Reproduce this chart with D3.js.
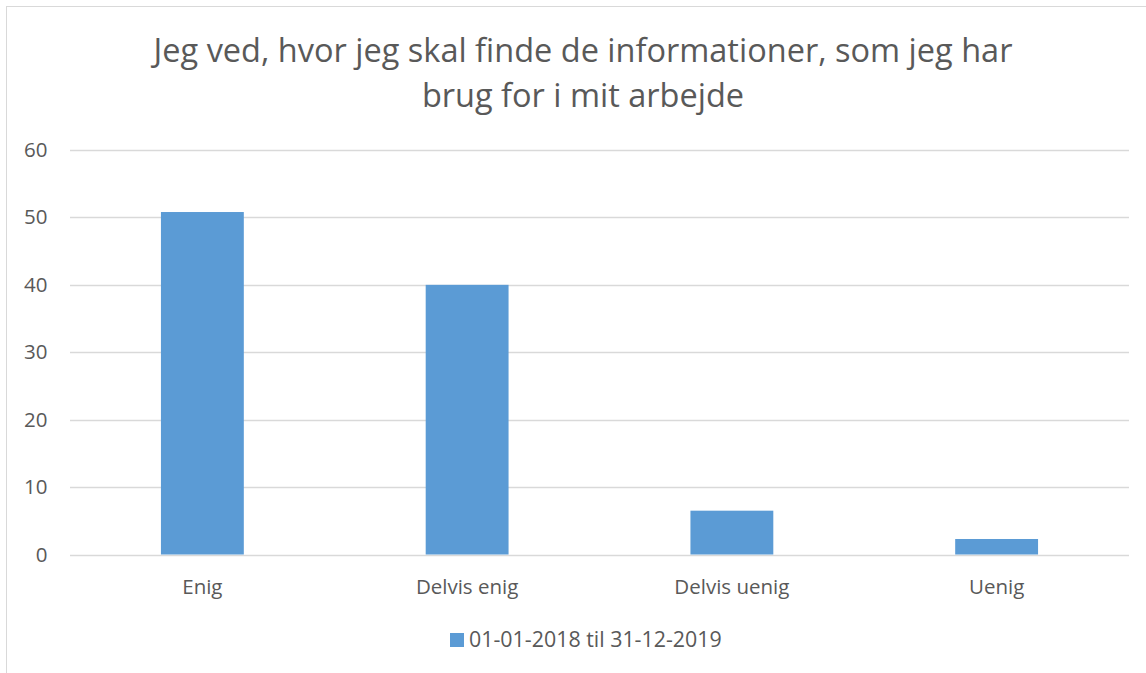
<!DOCTYPE html>
<html>
<head>
<meta charset="utf-8">
<script src="https://cdn.jsdelivr.net/npm/d3@7"></script>
<style>
  body { margin: 0; background: #fff; }
  text { font-family: "Open Sans", Lato, sans-serif; fill: #595959; }
</style>
</head>
<body>
<svg id="chart" width="1146" height="673"></svg>
<script>
    'use strict';

    // Data
    var categories = ['Enig', 'Delvis enig', 'Delvis uenig', 'Uenig'];
    var values = [50.8, 40.0, 6.5, 2.3];
    var seriesName = '01-01-2018 til 31-12-2019';
    var titleLines = ['Jeg ved, hvor jeg skal finde de informationer, som jeg har', 'brug for i mit arbejde'];
    var yTicks = [0, 10, 20, 30, 40, 50, 60];

    var barColor = '#5b9bd5';
    var gridColor = '#d9d9d9';
    var labelSize = 20.5;

    var svg = d3.select('#chart');

    // chart frame (right and bottom edges fall outside the picture)
    svg.append('rect')
        .attr('x', 6.5).attr('y', 6.5)
        .attr('width', 1160).attr('height', 700)
        .attr('fill', 'none')
        .attr('stroke', '#d9d9d9')
        .attr('stroke-width', 1);

    var x = d3.scaleBand()
        .domain(categories)
        .range([70, 1129])
        .paddingInner(0.687)
        .paddingOuter(0.3435);

    var y = d3.scaleLinear()
        .domain([0, 60])
        .range([554.5, 150]);

    // Title
    svg.selectAll('text.title')
        .data(titleLines)
        .enter()
        .append('text')
        .attr('class', 'title')
        .text(function (d) { return d; })
        .attr('x', 583)
        .attr('y', function (d, i) { return 62 + i * 45; })
        .attr('text-anchor', 'middle')
        .attr('font-size', 32.5);

    // Gridlines
    svg.selectAll('line.grid')
        .data(yTicks)
        .enter()
        .append('line')
        .attr('class', 'grid')
        .attr('x1', 70).attr('x2', 1129)
        .attr('y1', function (d) { return Math.round(y(d)) + 0.5; })
        .attr('y2', function (d) { return Math.round(y(d)) + 0.5; })
        .attr('stroke', gridColor)
        .attr('stroke-width', 1.5);

    // Y labels
    svg.selectAll('text.y')
        .data(yTicks)
        .enter()
        .append('text')
        .attr('class', 'y')
        .text(function (d) { return d; })
        .attr('x', 47.5)
        .attr('y', function (d) { return y(d) + 7; })
        .attr('text-anchor', 'end')
        .attr('font-size', labelSize);

    // Bars
    svg.selectAll('rect.bar')
        .data(values)
        .enter()
        .append('rect')
        .attr('class', 'bar')
        .attr('x', function (d, i) { return x(categories[i]); })
        .attr('y', function (d) { return y(d); })
        .attr('width', x.bandwidth())
        .attr('height', function (d) { return y(0) - y(d); })
        .attr('fill', barColor);

    // X labels
    svg.selectAll('text.x')
        .data(categories)
        .enter()
        .append('text')
        .attr('class', 'x')
        .text(function (d) { return d; })
        .attr('x', function (d) { return x(d) + x.bandwidth() / 2; })
        .attr('y', 594)
        .attr('text-anchor', 'middle')
        .attr('font-size', labelSize);

    // Legend
    var legend = svg.append('g').attr('transform', 'translate(450,633)');
    legend.append('rect')
        .attr('width', 14).attr('height', 14)
        .attr('fill', barColor);
    legend.append('text')
        .text(seriesName)
        .attr('x', 19)
        .attr('y', 13.5)
        .attr('font-size', 21.4);
</script>
</body>
</html>
